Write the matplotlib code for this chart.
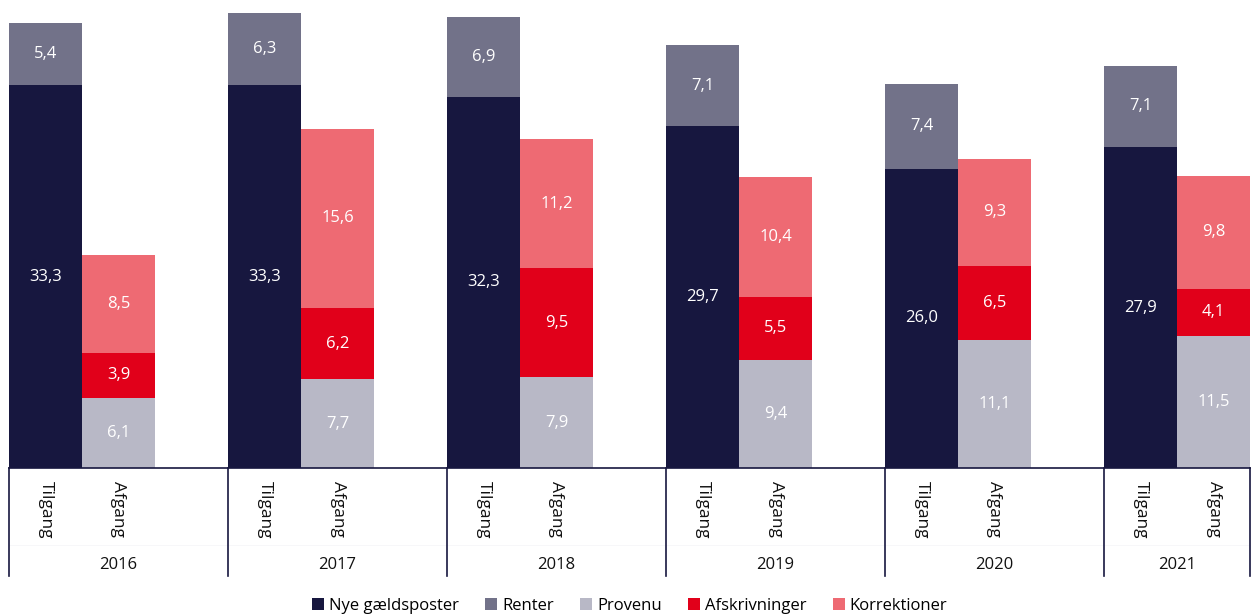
import matplotlib
matplotlib.use("Agg")
import matplotlib.pyplot as plt
from matplotlib.patches import Patch
import matplotlib.transforms as mtransforms

years = ["2016", "2017", "2018", "2019", "2020", "2021"]
sub_labels = ["Tilgang", "Afgang"]

# Tilgang
nye = [33.3, 33.3, 32.3, 29.7, 26.0, 27.9]
renter = [5.4, 6.3, 6.9, 7.1, 7.4, 7.1]
# Afgang
provenu = [6.1, 7.7, 7.9, 9.4, 11.1, 11.5]
afskriv = [3.9, 6.2, 9.5, 5.5, 6.5, 4.1]
korrek = [8.5, 15.6, 11.2, 10.4, 9.3, 9.8]

series_names = ["Nye gældsposter", "Renter", "Provenu", "Afskrivninger", "Korrektioner"]
colors = ["#17173F", "#727289", "#B8B8C6", "#E1001A", "#EE6A73"]

plt.rcParams['font.family'] = ['Open Sans', 'DejaVu Sans']

fig = plt.figure(figsize=(12.52, 6.16), dpi=100)
ax = fig.add_axes([9/1252, 148/616, 1241/1252, 468/616])

n = len(years)
x_t = [3*i + 0.5 for i in range(n)]
x_a = [3*i + 1.5 for i in range(n)]

def fmt(v):
    return f"{v:.1f}".replace(".", ",")

def stack(xs, layers, cols):
    bottom = [0.0]*len(xs)
    for vals, c in zip(layers, cols):
        ax.bar(xs, vals, width=1.0, bottom=bottom, color=c, edgecolor='none')
        for x, b, v in zip(xs, bottom, vals):
            ax.text(x, b + v/2, fmt(v), ha='center', va='center', color='white', fontsize=12)
        bottom = [b + v for b, v in zip(bottom, vals)]

stack(x_t, [nye, renter], [colors[0], colors[1]])
stack(x_a, [provenu, afskriv, korrek], [colors[2], colors[3], colors[4]])

ax.set_xlim(0, 17)
ax.set_ylim(0, 468/11.5)
ax.axis('off')

trans = mtransforms.blended_transform_factory(ax.transData, ax.transAxes)
line_col = "#17173F"
ax.plot([0, 17], [0, 0], color=line_col, lw=1.2, transform=trans, clip_on=False)
ax.plot([0, 17], [-77/468, -77/468], color="#F4F4F7", lw=0.5, transform=trans, clip_on=False)
seps = [0, 3, 6, 9, 12, 15, 17]
for s in seps:
    ax.plot([s, s], [0, -108/468], color=line_col, lw=1.2, transform=trans, clip_on=False)

for i in range(n):
    for x, lab in zip([x_t[i], x_a[i]], sub_labels):
        ax.text(x, -13/468, lab, rotation=-90, ha='center', va='top', fontsize=12.5,
                color='#111111', transform=trans)
    lo, hi = seps[i], seps[i+1]
    ax.text((lo+hi)/2, -97/468, years[i], ha='center', va='center', fontsize=12,
            color='#111111', transform=trans)

handles = [Patch(facecolor=c, edgecolor='none', label=l) for c, l in zip(colors, series_names)]
fig.legend(handles=handles, loc='center', bbox_to_anchor=(0.503, 1 - 606/616), ncol=5,
           frameon=False, fontsize=12, handlelength=0.7, handleheight=0.7,
           handletextpad=0.3, columnspacing=1.6, borderaxespad=0)

fig.savefig("out.png", dpi=100)
